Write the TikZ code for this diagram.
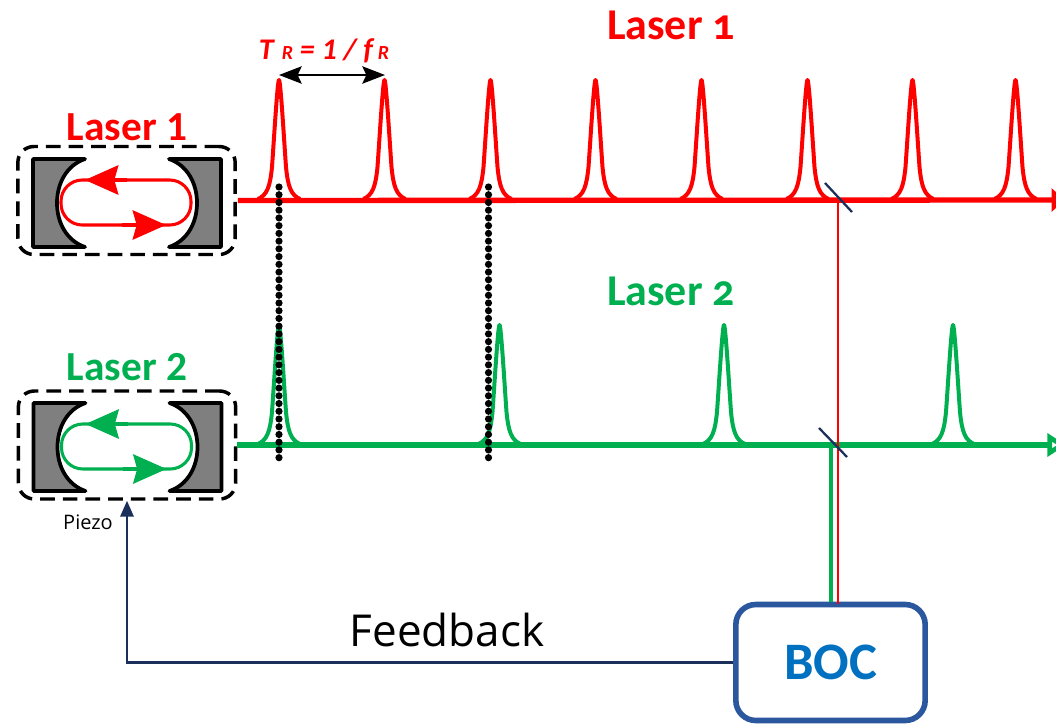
\documentclass[tikz,border=0pt]{standalone}
\usepackage{fontspec}
\setmainfont{Carlito}
\newfontfamily\oldnum[Numbers=OldStyle]{Carlito}
\newfontfamily\labelfont{Open Sans}
\usepackage{xcolor}
\usetikzlibrary{arrows.meta, positioning, shapes}

\definecolor{laserred}{HTML}{FF0000}
\definecolor{lasergreen}{HTML}{00B050}
\definecolor{navyline}{HTML}{1B2F5B}
\definecolor{bocedge}{HTML}{2B579F}
\definecolor{boctext}{HTML}{0070C0}
\definecolor{mirrorgray}{HTML}{7F7F7F}

\tikzset{
  cavitybox/.style={draw=black, line width=2.6pt, dash pattern=on 11pt off 6pt, rounded corners=12pt,
    minimum width=163pt, minimum height=81pt, inner sep=0pt},
  bigtext/.style={font=\fontsize{31}{31}\selectfont\bfseries, inner sep=0pt},
  traintext/.style={font=\fontsize{33}{33}\selectfont\bfseries, inner sep=0pt},
  pulseline/.style={line width=3pt, line join=round},
  axisline/.style={line width=4pt},
  splitter/.style={draw=navyline, line width=1.7pt},
  beats/.style={black, line width=5.4pt, line cap=round, dash pattern=on 0pt off 5.8pt},
  cavity/.pic={
    \foreach \side in {1,-1} {
      \draw[xscale=\side, fill=mirrorgray, line width=2.8pt, line join=round]
        (-94,-44) -- (-42,-44) .. controls (-60,-38) and (-70,-20) .. (-70,0)
        .. controls (-70,20) and (-60,38) .. (-42,44) -- (-94,44) -- cycle;
    }
    \draw[#1, line width=2.3pt, rounded corners=16pt] (-66,-23) rectangle (64,22);
    \draw[#1, line width=2.3pt, -{Stealth[length=25pt,width=22pt,inset=3pt]}] (0,-23) -- (-42,-23);
    \draw[#1, line width=2.3pt, -{Stealth[length=25pt,width=22pt,inset=3pt]}] (-5,22) -- (39,22);
  }
}

% one pulse: position, baseline, colour
\newcommand{\pulseat}[3]{
  \draw[#3, pulseline] (#1-21,#2) .. controls (#1-12,#2-4) and (#1-9,#2-12) .. (#1-7,#2-32)
    .. controls (#1-5,#2-60) and (#1-1.5,#2-119) .. (#1,#2-119)
    .. controls (#1+1.5,#2-119) and (#1+5,#2-60) .. (#1+7,#2-32)
    .. controls (#1+9,#2-12) and (#1+12,#2-4) .. (#1+21,#2);
}

\begin{document}
\begin{tikzpicture}[x=0.75pt, y=-0.75pt]
  \useasboundingbox (0,0) rectangle (1056,724);

  % Cavities
  \node[cavitybox] (laserOneBox) at (126.5,200.5) {};
  \node[cavitybox] (laserTwoBox) at (127,445) {};
  \pic at (127,203) {cavity=laserred};
  \pic at (127.5,447) {cavity=lasergreen};

  % Labels
  \node[bigtext, laserred] (laserOneLabel) at (127,127) {Laser 1};
  \node[bigtext, lasergreen] (laserTwoLabel) at (127,367) {Laser 2};
  \node[traintext, laserred] (trainOneLabel) at (671,25) {\oldnum Laser 1};
  \node[traintext, lasergreen] (trainTwoLabel) at (671,291) {\oldnum Laser 2};
  \node[laserred, font=\fontsize{22.5}{22.5}\selectfont\bfseries\itshape, inner sep=0pt] (periodLabel) at (324,51)
    {T\,{\fontsize{15}{15}\selectfont\,R} = 1 / f\,{\fontsize{15}{15}\selectfont R}};
  \node[font=\labelfont\fontsize{15}{15}\selectfont, inner sep=0pt] (piezoLabel) at (88,522) {Piezo};
  \node[font=\labelfont\fontsize{33}{33}\selectfont, inner sep=0pt] (feedbackLabel) at (447,630) {Feedback};

  % Free ends of the connectors
  \coordinate (redEnd) at (1065,200);
  \coordinate (greenEnd) at (1066,445);
  \coordinate (splitOne) at (838,200);
  \coordinate (tapGreen) at (831,445);
  \coordinate (periodLeft) at (279,75);
  \coordinate (periodRight) at (385,75);
  \coordinate (beatOneTop) at (279,187);
  \coordinate (beatOneEnd) at (279,464);
  \coordinate (beatTwoTop) at (488.5,187);
  \coordinate (beatTwoEnd) at (488.5,464);

  % Pulse trains
  \foreach \px in {279,384.5,490.5,595.5,701.5,807.5,912.5,1015.5} {
    \pulseat{\px}{199}{laserred}
  }
  \foreach \px in {279,499.5,724,953} {
    \pulseat{\px}{444}{lasergreen}
  }

  % Time axes
  \draw[laserred, axisline, -{Triangle[length=10pt,width=17pt]}] (laserOneBox.east) ++(1,0) -- (redEnd);
  \draw[lasergreen, axisline, -{Triangle[open,length=14pt,width=17pt]}] (laserTwoBox.east) -- (greenEnd);

  % BOC
  \node[draw=bocedge, line width=4.2pt, rounded corners=15pt, fill=white, minimum width=142pt, minimum height=87pt,
    text=boctext, font=\fontsize{39.5}{39.5}\selectfont\bfseries, inner sep=0pt] (boc) at (830.5,662.5) {BOC};

  % Beams to the BOC
  \draw[lasergreen, line width=3.4pt] (tapGreen) -- (tapGreen |- boc.north);
  \draw[laserred, line width=2.2pt] (splitOne) -- ([yshift=-2pt]splitOne |- boc.north);
  \draw[splitter] (825,183) -- (852,212);
  \draw[splitter] (819,428) -- (847,457);

  % Overlap marks
  \draw[beats] (beatOneTop) -- (beatOneEnd);
  \draw[beats] (beatTwoTop) -- (beatTwoEnd);

  % Repetition period
  \draw[black, line width=1.6pt, {Stealth[length=17pt,width=13pt,inset=3pt]}-{Stealth[length=17pt,width=13pt,inset=3pt]}]
    (periodLeft) -- (periodRight);

  % Feedback
  \draw[navyline, line width=1.8pt, -{Stealth[length=12pt,width=10pt,inset=0pt]}] (boc.west) -| (laserTwoBox.south);
\end{tikzpicture}
\end{document}
